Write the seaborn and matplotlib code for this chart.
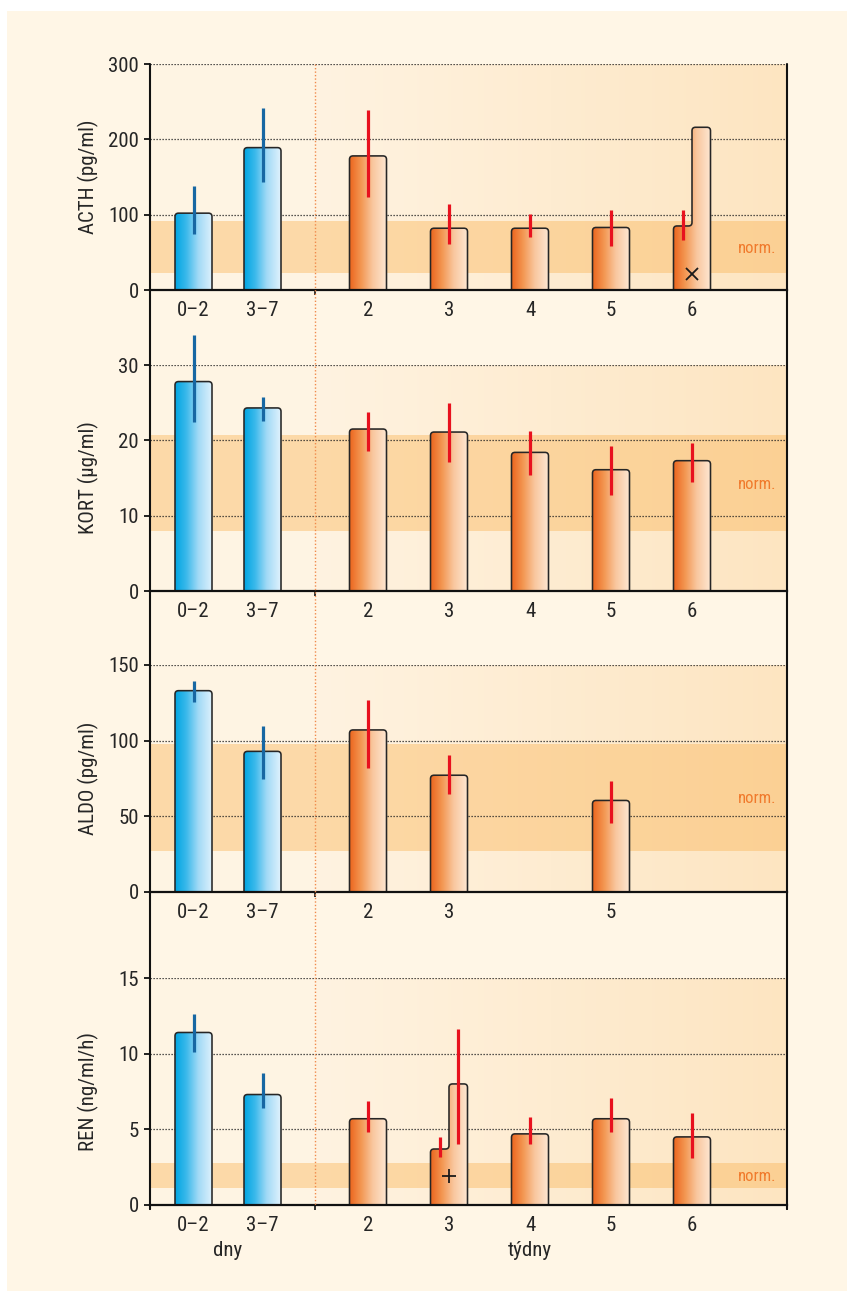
import numpy as np
import pandas as pd
import matplotlib
matplotlib.use("Agg")
import matplotlib.pyplot as plt
import seaborn as sns
from matplotlib import font_manager
from matplotlib.path import Path
from matplotlib.patches import PathPatch, Rectangle
from matplotlib.lines import Line2D
from matplotlib.colors import LinearSegmentedColormap

# ---------------- data ----------------
categories = ['0–2', '3–7', '2', '3', '4', '5', '6']
period = ['dny', 'dny', 'týdny', 'týdny', 'týdny', 'týdny', 'týdny']

acth_mean = [102, 189, 178, 82, 82, 83, 85]
acth_lo = [74, 143, 123, 61, 70, 58, 66]
acth_hi = [138, 242, 239, 114, 101, 106, 106]
acth_extra = [np.nan, np.nan, np.nan, np.nan, np.nan, np.nan, 216]
acth_extra_lo = [np.nan] * 7
acth_extra_hi = [np.nan] * 7
acth_marker = [None, None, None, None, None, None, 'x']
acth_marker_val = 21
acth_ticks = [0, 100, 200, 300]
acth_norm = (22, 92)

kort_mean = [27.8, 24.3, 21.5, 21.1, 18.4, 16.1, 17.3]
kort_lo = [22.4, 22.6, 18.6, 17.1, 15.4, 12.7, 14.5]
kort_hi = [34.0, 25.8, 23.8, 24.9, 21.3, 19.3, 19.6]
kort_ticks = [0, 10, 20, 30]
kort_norm = (8, 20.7)

aldo_mean = [133, 92.8, 107, 77, np.nan, 60.3, np.nan]
aldo_lo = [125.3, 74.4, 82, 64.7, np.nan, 45.3, np.nan]
aldo_hi = [139.2, 109.4, 127, 90.6, np.nan, 73.5, np.nan]
aldo_ticks = [0, 50, 100, 150]
aldo_norm = (27, 98)

ren_mean = [11.4, 7.3, 5.7, 3.7, 4.7, 5.7, 4.5]
ren_lo = [10.1, 6.4, 4.8, 3.2, 4.0, 4.8, 3.1]
ren_hi = [12.6, 8.7, 6.9, 4.5, 5.8, 7.1, 6.1]
ren_extra = [np.nan, np.nan, np.nan, 8.0, np.nan, np.nan, np.nan]
ren_extra_lo = [np.nan, np.nan, np.nan, 4.0, np.nan, np.nan, np.nan]
ren_extra_hi = [np.nan, np.nan, np.nan, 11.6, np.nan, np.nan, np.nan]
ren_marker = [None, None, None, '+', None, None, None]
ren_marker_val = 1.9
ren_ticks = [0, 5, 10, 15]
ren_norm = (1.1, 2.8)

# ---------------- layout ----------------
W, H, DPI = 847, 1291, 100
X0, X1, UNIT = 150, 787, 81.0
POS_PX = [193.5, 262.5, 368, 449, 530, 611, 692]
pos = [(p - X0) / UNIT for p in POS_PX]
XMAX = (X1 - X0) / UNIT
XDASH = (315 - X0) / UNIT
BAR_W = 37 / 69.0  # relative to min spacing (native scale)

sns.set_style("white")
names = {f.name for f in font_manager.fontManager.ttflist}
fam = 'DejaVu Sans'
for cand in ['Liberation Sans Narrow', 'Roboto Condensed', 'Open Sans Condensed', 'Liberation Sans']:
    if cand in names:
        fam = cand
        break
plt.rcParams['font.family'] = [fam, 'DejaVu Sans']

CREAM = '#FFF6E6'
blue_cmap = LinearSegmentedColormap.from_list('b', [(0, '#00A5E2'), (0.3, '#3BB9EB'), (0.62, '#A2DAF6'), (1, '#E0F2FD')])
orange_cmap = LinearSegmentedColormap.from_list('o', [(0, '#EC6720'), (0.3, '#F39752'), (0.62, '#F9C79F'), (1, '#FEE8D3')])
bg_cmap = LinearSegmentedColormap.from_list('bg', [(0, '#FFF3E1'), (1, '#FDE5C1')])
ERR_BLUE = '#1767A3'
ERR_RED = '#E8111E'

fig = plt.figure(figsize=(W / DPI, H / DPI), dpi=DPI, facecolor='white')
fig.add_artist(Rectangle((7 / W, 0), (W - 7) / W, (H - 11) / H, transform=fig.transFigure,
                         facecolor=CREAM, edgecolor='none', zorder=-10))


def rounded_path(verts, rx, ry):
    pts, codes = [verts[0]], [Path.MOVETO]
    for i in range(1, len(verts) - 1):
        V = np.array(verts[i], float)
        P = np.array(verts[i - 1], float)
        N = np.array(verts[i + 1], float)

        def toward(T):
            d = T - V
            if abs(d[0]) > 0:
                return V + np.array([np.sign(d[0]) * rx, 0.0])
            return V + np.array([0.0, np.sign(d[1]) * ry])
        pts += [toward(P), V, toward(N)]
        codes += [Path.LINETO, Path.CURVE3, Path.CURVE3]
    pts.append(verts[-1]); codes.append(Path.LINETO)
    pts.append(verts[0]); codes.append(Path.CLOSEPOLY)
    return Path(pts, codes)


panels = [
    dict(label='ACTH (pg/ml)', mean=acth_mean, lo=acth_lo, hi=acth_hi, extra=acth_extra,
         elo=acth_extra_lo, ehi=acth_extra_hi, marker=acth_marker, mval=acth_marker_val,
         ticks=acth_ticks, norm=acth_norm, top=64, bottom=290),
    dict(label='KORT (µg/ml)', mean=kort_mean, lo=kort_lo, hi=kort_hi, extra=[np.nan] * 7,
         elo=[np.nan] * 7, ehi=[np.nan] * 7, marker=[None] * 7, mval=0,
         ticks=kort_ticks, norm=kort_norm, top=365, bottom=591),
    dict(label='ALDO (pg/ml)', mean=aldo_mean, lo=aldo_lo, hi=aldo_hi, extra=[np.nan] * 7,
         elo=[np.nan] * 7, ehi=[np.nan] * 7, marker=[None] * 7, mval=0,
         ticks=aldo_ticks, norm=aldo_norm, top=665, bottom=891.5),
    dict(label='REN (ng/ml/h)', mean=ren_mean, lo=ren_lo, hi=ren_hi, extra=ren_extra,
         elo=ren_extra_lo, ehi=ren_extra_hi, marker=ren_marker, mval=ren_marker_val,
         ticks=ren_ticks, norm=ren_norm, top=978, bottom=1205),
]

axes = []
for k, pn in enumerate(panels):
    ax = fig.add_axes([X0 / W, 1 - pn['bottom'] / H, (X1 - X0) / W, (pn['bottom'] - pn['top']) / H])
    axes.append(ax)
    ymax = pn['ticks'][-1]
    ax.set_facecolor('#FEF4E3')

    df = pd.DataFrame({'pos': pos, 'value': pn['mean'], 'cat': categories, 'period': period})
    df = df.dropna(subset=['value']).reset_index(drop=True)
    sns.barplot(data=df, x='pos', y='value', native_scale=True, width=BAR_W,
                errorbar=None, color='#F39752', ax=ax)
    bars = list(ax.patches)

    # background gradient and normal band
    ax.imshow(np.linspace(0, 1, 256)[None, :], cmap=bg_cmap, aspect='auto',
              extent=(XDASH, XMAX, 0, ymax), zorder=0.1, interpolation='bilinear')
    ax.axhspan(pn['norm'][0], pn['norm'][1], color=(250 / 255, 182 / 255, 90 / 255),
               alpha=0.43, lw=0, zorder=0.2)
    for t in pn['ticks'][1:]:
        ax.axhline(t, color='#222222', lw=0.9, ls=(0, (1, 1.4)), zorder=0.3)

    px_per_y = (pn['bottom'] - pn['top']) / ymax
    rx, ry = 3.5 / UNIT, 3.5 / px_per_y
    yb = -3 * ry

    for p in bars:
        x0, w, h = p.get_x(), p.get_width(), p.get_height()
        p.set_visible(False)
        cx = x0 + w / 2
        i = int(np.argmin([abs(cx - q) for q in pos]))
        x1 = x0 + w
        xm = cx
        ex = pn['extra'][i]
        if np.isnan(ex):
            verts = [(x0, yb), (x0, h), (x1, h), (x1, yb)]
            ytop = h
        else:
            verts = [(x0, yb), (x0, h), (xm, h), (xm, ex), (x1, ex), (x1, yb)]
            ytop = max(h, ex)
        path = rounded_path(verts, rx, ry)
        cmap = blue_cmap if period[i] == 'dny' else orange_cmap
        im = ax.imshow(np.linspace(0, 1, 256)[None, :], cmap=cmap, aspect='auto',
                       extent=(x0, x1, yb, ytop), zorder=2, interpolation='bilinear')
        clip = PathPatch(path, transform=ax.transData, facecolor='none', edgecolor='none')
        ax.add_patch(clip)
        im.set_clip_path(clip)
        ax.add_patch(PathPatch(path, facecolor='none', edgecolor='#262626', lw=1.15, zorder=2.5))

        ecol = ERR_BLUE if period[i] == 'dny' else ERR_RED
        if np.isnan(ex):
            ax.vlines(cx, pn['lo'][i], pn['hi'][i], colors=ecol, lw=2.3, zorder=3, clip_on=False)
        else:
            ax.vlines((x0 + xm) / 2, pn['lo'][i], pn['hi'][i], colors=ecol, lw=2.3, zorder=3, clip_on=False)
            if not np.isnan(pn['elo'][i]):
                ax.vlines((xm + x1) / 2, pn['elo'][i], pn['ehi'][i], colors=ecol, lw=2.3, zorder=3, clip_on=False)
        mk = pn['marker'][i]
        if mk is not None:
            ax.plot([cx], [pn['mval']], marker=mk, ms=10 if mk == '+' else 9, mew=1.3,
                    color='#1a1a1a', zorder=4, ls='none')

    # norm label
    ax.text((776 - X0) / UNIT, sum(pn['norm']) / 2, 'norm.', color='#F07A2C', fontsize=12,
            ha='right', va='center_baseline', zorder=4)

    # axes styling
    ax.set_xlim(0, XMAX)
    ax.set_ylim(0, ymax)
    for s in ['left', 'right', 'top']:
        ax.spines[s].set_visible(False)
    ax.spines['bottom'].set_linewidth(1.6)
    ax.spines['bottom'].set_color('#111111')
    ax.spines['bottom'].set_zorder(5)
    ax.set_yticks(pn['ticks'])
    ax.set_yticklabels([str(t) for t in pn['ticks']])
    ax.tick_params(axis='y', direction='out', length=4.5, width=1.3, color='#111111',
                   labelsize=15, pad=3.5, left=True)
    ax.set_xticks([0, XDASH, XMAX])
    ax.set_xticklabels(['', '', ''])
    ax.tick_params(axis='x', which='major', direction='out', length=3.6, width=1.2, color='#111111', bottom=True)
    ax.set_xticks(list(df['pos']), labels=list(df['cat']), minor=True)
    ax.tick_params(axis='x', which='minor', length=0, labelsize=15, pad=8)
    ax.set_xlabel('')
    ax.set_ylabel('')
    ax.text(-0.0974, 0.5, pn['label'], transform=ax.transAxes, rotation=90,
            ha='center', va='center', fontsize=15)

# dny / týdny under last panel
axr = axes[-1]
off = -45 / (1205 - 978)
axr.text((pos[0] + pos[1]) / 2, off, 'dny', transform=axr.get_xaxis_transform(),
         ha='center', va='center', fontsize=15)
axr.text(pos[4], off, 'týdny', transform=axr.get_xaxis_transform(),
         ha='center', va='center', fontsize=15)

# continuous spines and dotted separator across panels
ytop_f, ybot_f = 1 - 64 / H, 1 - 1209 / H
for xp in (X0, X1):
    fig.add_artist(Line2D([xp / W, xp / W], [ytop_f, ybot_f], transform=fig.transFigure,
                          color='#111111', lw=1.5, zorder=3))
fig.add_artist(Line2D([315 / W, 315 / W], [ytop_f, 1 - 1205 / H], transform=fig.transFigure,
                      color='#F08A4B', lw=1.0, ls=(0, (1, 1.5)), zorder=3))

fig.savefig('out.png', dpi=DPI, facecolor='white')
